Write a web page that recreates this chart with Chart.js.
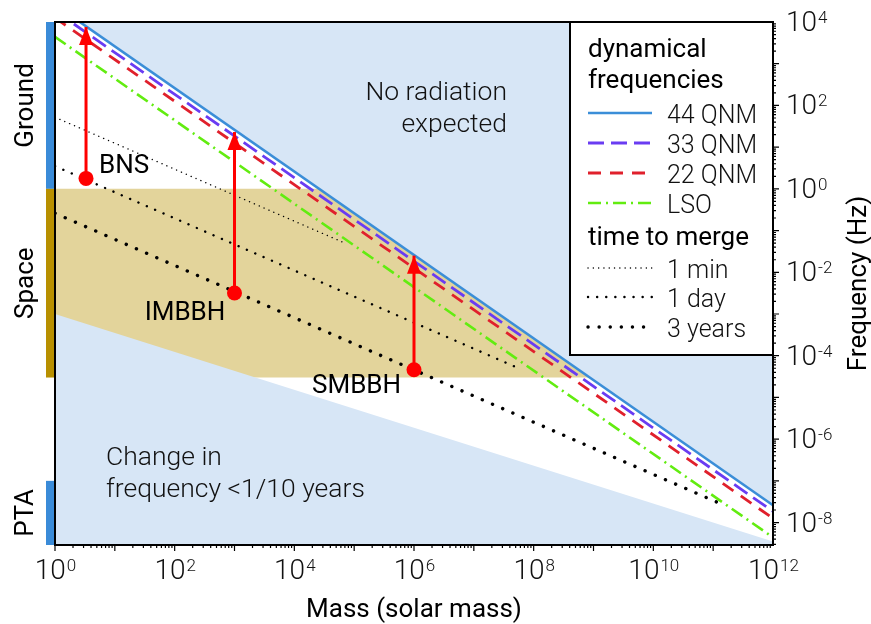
<!DOCTYPE html>
<html>
<head>
<meta charset="utf-8">
<script src="https://cdn.jsdelivr.net/npm/chart.js@4.4.1/dist/chart.umd.min.js"></script>
<style>
  html, body { margin: 0; padding: 0; background: #fff; }
  #wrap { width: 871px; height: 624px; }
</style>
</head>
<body>
<div id="wrap"><canvas id="gwChart" width="871" height="624"></canvas></div>
<script>
// axis ranges and tick exponents
const massRange = [1, 1e12];
const freqRange = [2.9e-9, 1e4];
const massTickExp = [0, 2, 4, 6, 8, 10, 12];
const freqTickExp = [4, 2, 0, -2, -4, -6, -8];

// dynamical frequencies (Hz) at the two ends of the mass range
const qnm44 = [2.6e4, 2.6e-8];
const qnm33 = [1.85e4, 1.85e-8];
const qnm22 = [1.26e4, 1.26e-8];
const lso = [4.4e3, 4.4e-9];

// time to merge, [mass, freq] end points
const merge1min = [[1, 52], [7e4, 0.05]];
const merge1day = [[1, 3.5], [6e7, 4.8e-5]];
const merge3yr = [[1, 0.26], [1.35e11, 2.8e-8]];

// lower edge: change in frequency < 1/10 years
const slowChirp = [1e-3, 3.5e-9];

// detector bands (Hz)
const groundBand = [1, 1e4];
const spaceBand = [3e-5, 1];
const ptaBand = [2.9e-9, 1e-7];

// sources: mass, starting freq, arrow tip freq
const srcNames = ['BNS', 'IMBBH', 'SMBBH'];
const srcMass = [3.3, 1e3, 1e6];
const srcLow = [1.78, 3.2e-3, 4.6e-5];
const srcHigh = [7.6e3, 23, 0.025];

const FONT = "Roboto, 'Liberation Sans', sans-serif";
const C = {
  q44: '#3b8ed8', q33: '#6a3cf2', q22: '#e0202c', lso: '#62ec10',
  sky: '#d7e6f6', sand: '#e3d49b', sandBar: '#b89000', blueBar: '#3a8bd8', red: '#ff0000'
};
const dots1min = { borderWidth: 1.4, borderDash: [0.1, 5.2] };
const dots1day = { borderWidth: 2.4, borderDash: [0.1, 9] };
const dots3yr = { borderWidth: 3.4, borderDash: [0.1, 11] };

function ends(vals) { return massRange.map((m, i) => ({ x: m, y: vals[i] })); }
function pairs(p) { return p.map(d => ({ x: d[0], y: d[1] })); }

const lineBase = { pointRadius: 0, tension: 0, fill: false };
const datasets = [
  Object.assign({}, lineBase, { data: ends([spaceBand[1], spaceBand[1]]), borderColor: 'rgba(0,0,0,0)', backgroundColor: C.sand, fill: { value: spaceBand[0] }, order: 20 }),
  Object.assign({}, lineBase, { data: ends(slowChirp), borderColor: 'rgba(0,0,0,0)', backgroundColor: C.sky, fill: 'start', order: 19 }),
  Object.assign({}, lineBase, { data: pairs(merge1min), borderColor: '#000', borderCapStyle: 'round', order: 15 }, dots1min),
  Object.assign({}, lineBase, { data: pairs(merge1day), borderColor: '#000', borderCapStyle: 'round', order: 14 }, dots1day),
  Object.assign({}, lineBase, { data: pairs(merge3yr), borderColor: '#000', borderCapStyle: 'round', order: 13 }, dots3yr),
  Object.assign({}, lineBase, { data: ends(lso), borderColor: C.lso, borderWidth: 2.6, borderDash: [13, 5, 2, 5], order: 12 }),
  Object.assign({}, lineBase, { data: ends(qnm22), borderColor: C.q22, borderWidth: 2.8, borderDash: [13, 9], order: 11 }),
  Object.assign({}, lineBase, { data: ends(qnm33), borderColor: C.q33, borderWidth: 2.8, borderDash: [16, 7], order: 10 }),
  Object.assign({}, lineBase, { data: ends(qnm44), borderColor: C.q44, borderWidth: 2.6, backgroundColor: C.sky, fill: 'end', order: 9 })
];
srcMass.forEach((m, i) => {
  datasets.push({
    data: [{ x: m, y: srcLow[i] }, { x: m, y: srcHigh[i] }],
    borderColor: C.red, borderWidth: 3, tension: 0, fill: false,
    pointRadius: [7.5, 0], pointBackgroundColor: C.red, pointBorderWidth: 0, order: 1
  });
});

function sup(ctx, exp, x, y, align) {
  const base = '10', e = String(exp);
  ctx.font = '300 28px ' + FONT;
  const w1 = ctx.measureText(base).width;
  ctx.font = '300 17px ' + FONT;
  const w2 = ctx.measureText(e).width;
  const x0 = align === 'center' ? x - (w1 + w2) / 2 : x;
  ctx.textAlign = 'left';
  ctx.font = '300 28px ' + FONT;
  ctx.fillText(base, x0, y);
  ctx.font = '300 17px ' + FONT;
  ctx.fillText(e, x0 + w1 + 1, y - 8);
}

function textRot(ctx, s, x, y, font) {
  ctx.save();
  ctx.translate(x, y);
  ctx.rotate(-Math.PI / 2);
  ctx.font = font;
  ctx.textAlign = 'center';
  ctx.fillText(s, 0, 0);
  ctx.restore();
}

function sampleLine(ctx, y, color, width, dash, cap) {
  ctx.save();
  ctx.strokeStyle = color;
  ctx.lineWidth = width;
  ctx.setLineDash(dash);
  ctx.lineCap = cap || 'butt';
  ctx.beginPath();
  ctx.moveTo(588, y);
  ctx.lineTo(652, y);
  ctx.stroke();
  ctx.restore();
}

const overlay = {
  id: 'overlay',
  beforeDraw(chart) {
    const ctx = chart.ctx;
    ctx.save();
    ctx.fillStyle = '#fff';
    ctx.fillRect(0, 0, chart.width, chart.height);
    ctx.restore();
  },
  afterDatasetsDraw(chart) {
    const ctx = chart.ctx, xs = chart.scales.x, ys = chart.scales.y, a = chart.chartArea;
    ctx.save();

    // arrow heads
    ctx.fillStyle = C.red;
    srcMass.forEach((m, i) => {
      const px = xs.getPixelForValue(m), py = ys.getPixelForValue(srcHigh[i]);
      ctx.beginPath();
      ctx.moveTo(px, py);
      ctx.lineTo(px - 7, py + 18);
      ctx.lineTo(px + 7, py + 18);
      ctx.closePath();
      ctx.fill();
    });

    // detector bars on the left
    const bar = (b, col) => {
      const y1 = ys.getPixelForValue(b[1]), y0 = ys.getPixelForValue(b[0]);
      ctx.fillStyle = col;
      ctx.fillRect(a.left - 9, y1, 8, y0 - y1);
    };
    bar(groundBand, C.blueBar);
    bar(spaceBand, C.sandBar);
    bar(ptaBand, C.blueBar);

    // frame
    ctx.strokeStyle = '#000';
    ctx.lineWidth = 2;
    ctx.strokeRect(a.left, a.top, a.right - a.left, a.bottom - a.top);

    // ticks
    ctx.lineWidth = 1.2;
    ctx.beginPath();
    for (let e = 0; e < 12; e++) {
      for (let k = 1; k < 10; k++) {
        const px = xs.getPixelForValue(k * Math.pow(10, e));
        ctx.moveTo(px, a.bottom);
        ctx.lineTo(px, a.bottom + (k === 1 ? 6 : 3));
      }
    }
    for (let e = -9; e < 4; e++) {
      for (let k = 1; k < 10; k++) {
        const v = k * Math.pow(10, e);
        if (v < freqRange[0]) continue;
        const py = ys.getPixelForValue(v);
        ctx.moveTo(a.right, py);
        ctx.lineTo(a.right + (k === 1 ? 6 : 3), py);
      }
    }
    ctx.stroke();

    // tick labels
    ctx.fillStyle = '#111';
    ctx.textBaseline = 'alphabetic';
    massTickExp.forEach(e => sup(ctx, e, xs.getPixelForValue(Math.pow(10, e)), 579, 'center'));
    freqTickExp.forEach(e => sup(ctx, e, 786, ys.getPixelForValue(Math.pow(10, e)) + 9, 'left'));

    // axis titles
    ctx.fillStyle = '#000';
    ctx.font = '400 26px ' + FONT;
    ctx.textAlign = 'center';
    ctx.fillText('Mass (solar mass)', (a.left + a.right) / 2, 617);
    textRot(ctx, 'Frequency (Hz)', 866, (a.top + a.bottom) / 2, '400 26px ' + FONT);
    textRot(ctx, 'Ground', 33, (ys.getPixelForValue(groundBand[0]) + ys.getPixelForValue(groundBand[1])) / 2, '400 26px ' + FONT);
    textRot(ctx, 'Space', 33, (ys.getPixelForValue(spaceBand[0]) + ys.getPixelForValue(spaceBand[1])) / 2, '400 26px ' + FONT);
    textRot(ctx, 'PTA', 33, (ys.getPixelForValue(1e-7) + a.bottom) / 2, '400 26px ' + FONT);

    // source labels
    ctx.font = '400 26px ' + FONT;
    ctx.textAlign = 'left';
    ctx.fillText(srcNames[0], 99, 173);
    ctx.textAlign = 'center';
    ctx.fillText(srcNames[1], 185, 320);
    ctx.textAlign = 'left';
    ctx.fillText(srcNames[2], 312, 393);

    // region notes
    ctx.font = '300 26.5px ' + FONT;
    ctx.fillStyle = '#111';
    ctx.textAlign = 'right';
    ctx.fillText('No radiation', 507, 100);
    ctx.fillText('expected', 507, 132);
    ctx.textAlign = 'left';
    ctx.fillText('Change in', 106, 465);
    ctx.fillText('frequency <1/10 years', 106, 497);

    // legend
    ctx.fillStyle = '#fff';
    ctx.fillRect(570, a.top, a.right - 570, 355 - a.top);
    ctx.strokeStyle = '#000';
    ctx.lineWidth = 2;
    ctx.strokeRect(570, a.top, a.right - 570, 355 - a.top);
    ctx.fillStyle = '#000';
    ctx.font = '400 26px ' + FONT;
    ctx.textAlign = 'left';
    ctx.fillText('dynamical', 588, 57);
    ctx.fillText('frequencies', 588, 88);
    ctx.fillText('time to merge', 588, 245);
    ctx.font = '300 25px ' + FONT;
    ctx.fillStyle = '#111';
    const items = [
      ['44 QNM', 123, C.q44, 2.6, []],
      ['33 QNM', 153, C.q33, 2.8, [16, 7]],
      ['22 QNM', 183, C.q22, 2.8, [13, 9]],
      ['LSO', 213, C.lso, 2.6, [13, 5, 2, 5]],
      ['1 min', 278, '#000', dots1min.borderWidth, dots1min.borderDash, 'round'],
      ['1 day', 307, '#000', dots1day.borderWidth, dots1day.borderDash, 'round'],
      ['3 years', 337, '#000', dots3yr.borderWidth, dots3yr.borderDash, 'round']
    ];
    items.forEach(it => {
      sampleLine(ctx, it[1] - 10, it[2], it[3], it[4], it[5]);
      ctx.fillText(it[0], 667, it[1]);
    });

    ctx.restore();
  }
};

new Chart(document.getElementById('gwChart'), {
  type: 'line',
  data: { datasets: datasets },
  plugins: [overlay],
  options: {
    responsive: false,
    animation: false,
    events: [],
    layout: { padding: { left: 55, top: 22, right: 0, bottom: 0 } },
    plugins: { legend: { display: false }, tooltip: { enabled: false } },
    scales: {
      x: {
        type: 'logarithmic', min: massRange[0], max: massRange[1],
        grid: { display: false }, border: { display: false }, ticks: { display: false },
        afterFit: s => { s.height = 79; }
      },
      y: {
        type: 'logarithmic', position: 'right', min: freqRange[0], max: freqRange[1],
        grid: { display: false }, border: { display: false }, ticks: { display: false },
        afterFit: s => { s.width = 98; }
      }
    }
  }
});
</script>
</body>
</html>
